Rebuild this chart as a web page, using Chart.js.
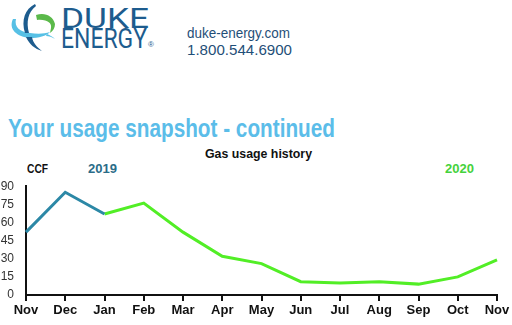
<!DOCTYPE html>
<html>
<head>
<meta charset="utf-8">
<script src="https://cdn.jsdelivr.net/npm/chart.js@4"></script>
<style>
    body { margin: 0; width: 512px; height: 325px; background: #fff; position: relative; overflow: hidden; font-family: "Liberation Sans", Arial, sans-serif; }
    .abs { position: absolute; white-space: nowrap; transform-origin: left top; }
    .logo { left: 61px; color: #1d5c8e; font-family: Roboto, "Liberation Sans", sans-serif; font-weight: 400; font-size: 27px; line-height: 27px; }
    .contact { left: 187px; color: #1f4f78; font-family: "Liberation Sans", sans-serif; font-size: 15px; line-height: 17px; }
    #heading { left: 8px; top: 114px; color: #5bbde9; font-family: "Liberation Sans", sans-serif; font-weight: bold; font-size: 25px; line-height: 28px; }
    .bold { font-family: "Liberation Sans", sans-serif; font-weight: bold; font-size: 13px; line-height: 16px; }
    #chartBox { position: absolute; left: 0; top: 175px; width: 512px; height: 150px; }
</style>
</head>
<body>

<svg class="abs" style="left:0;top:0" width="60" height="55" viewBox="0 0 60 55">
    <!-- light blue swoosh -->
    <path d="M13 19 C8 29 17 37 30 38 C39 38 46 36 50 32 C44 34 37 34 30 33 C20 32 14 27 16 19 Z" fill="#57c0e5"/>
    <!-- dark blue top leaf -->
    <path d="M35 4 C25 9 21 20 25 33 L29 33 C26 22 28 12 36 6 Z" fill="#1d5c8e"/>
    <!-- green arrow -->
    <path d="M36 15 C45 12 53 16 55 24 C55 28 53 31 50 33 L51 28 C52 23 47 19 37 20 Z" fill="#5bb94a"/>
    <!-- teal tail -->
    <path d="M47 34 C50 35 53 37 55 39 C52 37 49 36 46 36 Z" fill="#57c0e5"/>
    <!-- dark blue bottom -->
    <path d="M26 37 C29 44 35 49 42 51 C37 47 33 43 32 37 Z" fill="#1d5c8e"/>
</svg>
<div class="abs logo" id="logo1" style="top:6px">DUKE</div>
<div class="abs logo" id="logo2" style="top:26px">ENERGY</div>
<div class="abs" style="left:148px;top:40px;color:#1d5c8e;font-size:8px">®</div>
<div class="abs contact" id="web" style="top:24px">duke-energy.com</div>
<div class="abs contact" id="phone" style="top:41px">1.800.544.6900</div>

<div id="heading" class="abs">Your usage snapshot - continued</div>
<div id="chartTitle" class="abs bold" style="left:205px;top:146px;color:#111">Gas usage history</div>
<div id="ccf" class="abs bold" style="left:27px;top:161px;color:#111">CCF</div>
<div id="y2019" class="abs bold" style="left:88px;top:161px;color:#2a6c88">2019</div>
<div id="y2020" class="abs bold" style="left:445px;top:161px;color:#45d23c">2020</div>

<div id="chartBox"><canvas id="gasChart"></canvas></div>

<script>
// Data
const months = ['Nov', 'Dec', 'Jan', 'Feb', 'Mar', 'Apr', 'May', 'Jun', 'Jul', 'Aug', 'Sep', 'Oct', 'Nov'];
const usage2019 = [52, 85, 67, null, null, null, null, null, null, null, null, null, null];
const usage2020 = [null, null, 67, 76, 52, 32, 26, 11, 10, 11, 9, 15, 29];
const yTicks = [0, 15, 30, 45, 60, 75, 90];

// squeeze text to the narrow widths of the original print font
function fitWidth(id, width) {
    const el = document.getElementById(id);
    const w = el.getBoundingClientRect().width;
    if (w > 0) el.style.transform = `scaleX(${width / w})`;
}
fitWidth('logo1', 88);
fitWidth('logo2', 86);
fitWidth('web', 103);
fitWidth('phone', 105);
fitWidth('heading', 327);
fitWidth('chartTitle', 107);
fitWidth('ccf', 21);
fitWidth('y2019', 29);
fitWidth('y2020', 29);

const ctx = document.getElementById('gasChart');
new Chart(ctx, {
    type: 'line',
    data: {
        labels: months,
        datasets: [
            {
                label: '2019',
                data: usage2019,
                borderColor: '#2c88a6',
                borderWidth: 3,
                pointRadius: 0,
                tension: 0
            },
            {
                label: '2020',
                data: usage2020,
                borderColor: '#52ee26',
                borderWidth: 3,
                pointRadius: 0,
                tension: 0
            }
        ]
    },
    options: {
        responsive: true,
        maintainAspectRatio: false,
        animation: false,
        layout: { padding: { top: 8, right: 15, left: 0, bottom: 0 } },
        plugins: { legend: { display: false }, tooltip: { enabled: false } },
        scales: {
            x: {
                offset: false,
                afterFit: s => { s.height = 30; },
                grid: { display: true, drawOnChartArea: false, drawTicks: true, tickLength: 6, color: '#111', lineWidth: 2 },
                border: { display: true, color: '#111', width: 2 },
                ticks: {
                    color: '#111',
                    padding: 2,
                    maxRotation: 0,
                    autoSkip: false,
                    font: { family: '"Liberation Sans", sans-serif', size: 13, weight: 'bold' }
                }
            },
            y: {
                min: 0,
                max: 90,
                afterFit: s => { s.width = 26; },
                afterBuildTicks: s => { s.ticks = yTicks.map(v => ({ value: v })); },
                grid: { display: false },
                border: { display: true, color: '#111', width: 2 },
                ticks: {
                    color: '#333',
                    padding: 4,
                    font: { family: '"Liberation Sans", sans-serif', size: 12 }
                }
            }
        }
    }
});
</script>
</body>
</html>
